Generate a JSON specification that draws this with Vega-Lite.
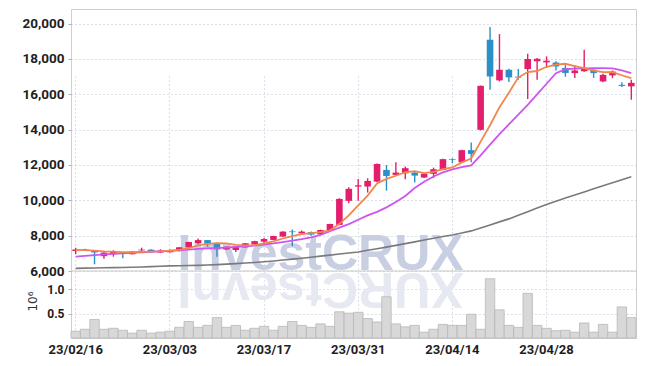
{
"$schema": "https://vega.github.io/schema/vega-lite/v6.json",
"width": 565, "height": 329,
"autosize": {"type": "none"},
"padding": {"left": 71, "top": 9, "right": 9, "bottom": 28},
"background": "white",
"config": {"view": {"stroke": "#cfcfcf", "strokeWidth": 1}},
"datasets": {"px": [
{"d":"23/02/16","o":7130,"h":7320,"l":6950,"c":7220,"v":0.14,"ma5":7190,"ma20":6810,"ma60":6150},
{"d":"23/02/17","o":7220,"h":7260,"l":7150,"c":7160,"v":0.18,"ma5":7180,"ma20":6860,"ma60":6160},
{"d":"23/02/20","o":7170,"h":7180,"l":6380,"c":7050,"v":0.38,"ma5":7150,"ma20":6900,"ma60":6170},
{"d":"23/02/21","o":6840,"h":7130,"l":6690,"c":7040,"v":0.18,"ma5":7110,"ma20":6940,"ma60":6180},
{"d":"23/02/22","o":6950,"h":7170,"l":6810,"c":7090,"v":0.20,"ma5":7100,"ma20":6970,"ma60":6190},
{"d":"23/02/23","o":7060,"h":7070,"l":6720,"c":7030,"v":0.16,"ma5":7070,"ma20":7000,"ma60":6200},
{"d":"23/02/24","o":6950,"h":7120,"l":6930,"c":7100,"v":0.10,"ma5":7060,"ma20":7030,"ma60":6215},
{"d":"23/02/27","o":7170,"h":7320,"l":7090,"c":7210,"v":0.16,"ma5":7080,"ma20":7060,"ma60":6230},
{"d":"23/02/28","o":7210,"h":7230,"l":7120,"c":7130,"v":0.10,"ma5":7100,"ma20":7090,"ma60":6250},
{"d":"23/03/02","o":7040,"h":7230,"l":7020,"c":7160,"v":0.12,"ma5":7110,"ma20":7110,"ma60":6270},
{"d":"23/03/03","o":7060,"h":7210,"l":7050,"c":7190,"v":0.14,"ma5":7150,"ma20":7140,"ma60":6290},
{"d":"23/03/06","o":7130,"h":7360,"l":7110,"c":7340,"v":0.22,"ma5":7200,"ma20":7170,"ma60":6300},
{"d":"23/03/07","o":7340,"h":7660,"l":7320,"c":7640,"v":0.34,"ma5":7300,"ma20":7210,"ma60":6310},
{"d":"23/03/08","o":7580,"h":7840,"l":7520,"c":7750,"v":0.22,"ma5":7450,"ma20":7250,"ma60":6320},
{"d":"23/03/09","o":7750,"h":7760,"l":7370,"c":7540,"v":0.26,"ma5":7540,"ma20":7280,"ma60":6340},
{"d":"23/03/10","o":7580,"h":7600,"l":6810,"c":7220,"v":0.42,"ma5":7580,"ma20":7300,"ma60":6360},
{"d":"23/03/13","o":7220,"h":7390,"l":7200,"c":7370,"v":0.22,"ma5":7560,"ma20":7330,"ma60":6390},
{"d":"23/03/14","o":7190,"h":7380,"l":7080,"c":7370,"v":0.26,"ma5":7480,"ma20":7360,"ma60":6420},
{"d":"23/03/15","o":7340,"h":7580,"l":7320,"c":7560,"v":0.16,"ma5":7450,"ma20":7400,"ma60":6450},
{"d":"23/03/16","o":7500,"h":7710,"l":7480,"c":7690,"v":0.20,"ma5":7470,"ma20":7440,"ma60":6480},
{"d":"23/03/17","o":7660,"h":7870,"l":7570,"c":7810,"v":0.24,"ma5":7560,"ma20":7500,"ma60":6520},
{"d":"23/03/20","o":7760,"h":8000,"l":7740,"c":7980,"v":0.16,"ma5":7680,"ma20":7560,"ma60":6570},
{"d":"23/03/21","o":7950,"h":8250,"l":7930,"c":8230,"v":0.24,"ma5":7840,"ma20":7640,"ma60":6620},
{"d":"23/03/22","o":8240,"h":8350,"l":7420,"c":8200,"v":0.34,"ma5":7980,"ma20":7720,"ma60":6670},
{"d":"23/03/23","o":8130,"h":8290,"l":8100,"c":8230,"v":0.26,"ma5":8090,"ma20":7800,"ma60":6720},
{"d":"23/03/24","o":8200,"h":8240,"l":8000,"c":8060,"v":0.22,"ma5":8140,"ma20":7900,"ma60":6780},
{"d":"23/03/27","o":8080,"h":8340,"l":8060,"c":8320,"v":0.29,"ma5":8200,"ma20":8050,"ma60":6840},
{"d":"23/03/28","o":8290,"h":8680,"l":8270,"c":8660,"v":0.24,"ma5":8300,"ma20":8250,"ma60":6900},
{"d":"23/03/29","o":8610,"h":10120,"l":8590,"c":10080,"v":0.54,"ma5":8670,"ma20":8450,"ma60":6960},
{"d":"23/03/30","o":9970,"h":10740,"l":9830,"c":10650,"v":0.51,"ma5":9150,"ma20":8650,"ma60":7020},
{"d":"23/03/31","o":10780,"h":11210,"l":9970,"c":10850,"v":0.53,"ma5":9710,"ma20":8900,"ma60":7080},
{"d":"23/04/03","o":10780,"h":11250,"l":10440,"c":11100,"v":0.40,"ma5":10270,"ma20":9150,"ma60":7170},
{"d":"23/04/04","o":11060,"h":12080,"l":11030,"c":12060,"v":0.33,"ma5":10950,"ma20":9350,"ma60":7260},
{"d":"23/04/05","o":11720,"h":12000,"l":10550,"c":11380,"v":0.85,"ma5":11210,"ma20":9600,"ma60":7350},
{"d":"23/04/06","o":11440,"h":12160,"l":11420,"c":11570,"v":0.29,"ma5":11390,"ma20":9900,"ma60":7450},
{"d":"23/04/07","o":11530,"h":11910,"l":11200,"c":11820,"v":0.23,"ma5":11590,"ma20":10250,"ma60":7550},
{"d":"23/04/10","o":11570,"h":11600,"l":11010,"c":11400,"v":0.26,"ma5":11650,"ma20":10700,"ma60":7650},
{"d":"23/04/11","o":11290,"h":11520,"l":11270,"c":11500,"v":0.12,"ma5":11540,"ma20":11050,"ma60":7750},
{"d":"23/04/12","o":11500,"h":11850,"l":11260,"c":11760,"v":0.18,"ma5":11610,"ma20":11350,"ma60":7850},
{"d":"23/04/13","o":11720,"h":12360,"l":11700,"c":12330,"v":0.28,"ma5":11760,"ma20":11580,"ma60":7950},
{"d":"23/04/14","o":12340,"h":12380,"l":12100,"c":12300,"v":0.26,"ma5":11860,"ma20":11750,"ma60":8040},
{"d":"23/04/17","o":12160,"h":12870,"l":12140,"c":12840,"v":0.26,"ma5":12150,"ma20":11880,"ma60":8150},
{"d":"23/04/18","o":12840,"h":13270,"l":12160,"c":12630,"v":0.49,"ma5":12370,"ma20":11980,"ma60":8270},
{"d":"23/04/19","o":13990,"h":16500,"l":13960,"c":16480,"v":0.18,"ma5":13320,"ma20":12550,"ma60":8440},
{"d":"23/04/20","o":19090,"h":19810,"l":16260,"c":17010,"v":1.22,"ma5":14250,"ma20":13150,"ma60":8610},
{"d":"23/04/21","o":16790,"h":19410,"l":16730,"c":17390,"v":0.58,"ma5":15270,"ma20":13750,"ma60":8780},
{"d":"23/04/24","o":17390,"h":17450,"l":16700,"c":16960,"v":0.26,"ma5":16090,"ma20":14300,"ma60":8950},
{"d":"23/04/25","o":17000,"h":17430,"l":16820,"c":16950,"v":0.22,"ma5":16960,"ma20":14850,"ma60":9150},
{"d":"23/04/26","o":17430,"h":18300,"l":15730,"c":18000,"v":0.92,"ma5":17260,"ma20":15400,"ma60":9360},
{"d":"23/04/27","o":17870,"h":18050,"l":16820,"c":18010,"v":0.26,"ma5":17320,"ma20":16000,"ma60":9560},
{"d":"23/04/28","o":17810,"h":18150,"l":17490,"c":17900,"v":0.20,"ma5":17560,"ma20":16600,"ma60":9770},
{"d":"23/05/02","o":17800,"h":17870,"l":17350,"c":17580,"v":0.15,"ma5":17680,"ma20":17200,"ma60":9950},
{"d":"23/05/03","o":17490,"h":17650,"l":17000,"c":17210,"v":0.16,"ma5":17730,"ma20":17420,"ma60":10130},
{"d":"23/05/04","o":17200,"h":17650,"l":16930,"c":17350,"v":0.12,"ma5":17600,"ma20":17450,"ma60":10300},
{"d":"23/05/08","o":17300,"h":18520,"l":17280,"c":17430,"v":0.31,"ma5":17480,"ma20":17470,"ma60":10470},
{"d":"23/05/09","o":17400,"h":17420,"l":16930,"c":17200,"v":0.12,"ma5":17340,"ma20":17480,"ma60":10650},
{"d":"23/05/10","o":16730,"h":17160,"l":16680,"c":17100,"v":0.28,"ma5":17260,"ma20":17480,"ma60":10820},
{"d":"23/05/11","o":17070,"h":17350,"l":16920,"c":17290,"v":0.12,"ma5":17250,"ma20":17470,"ma60":10990},
{"d":"23/05/12","o":16540,"h":16680,"l":16410,"c":16480,"v":0.64,"ma5":17080,"ma20":17350,"ma60":11170},
{"d":"23/05/15","o":16450,"h":16820,"l":15690,"c":16650,"v":0.42,"ma5":16920,"ma20":17200,"ma60":11340}
],
"wm": [{"t": "InvestCRUX", "r": "XURCtsevnI"}]
},
"layer": [
 {
  "layer": [
   {
    "data": {"name": "wm"},
    "mark": {"type": "text", "font": "Liberation Sans", "fontWeight": "bold", "fontSize": 50, "align": "center", "baseline": "alphabetic", "color": "#e6e9f2", "angle": 180, "dy": -2},
    "encoding": {"x": {"datum": "23/03/27", "type": "ordinal"}, "y": {"datum": 6000, "type": "quantitative"}, "text": {"field": "r"}}
   },
   {
    "data": {"name": "wm"},
    "mark": {"type": "text", "font": "Liberation Sans", "fontWeight": "bold", "fontSize": 50, "align": "center", "baseline": "alphabetic", "color": "#c8cfe2", "dy": -1},
    "encoding": {"x": {"datum": "23/03/27", "type": "ordinal"}, "y": {"datum": 6000, "type": "quantitative"}, "text": {"field": "t"}}
   },
   {
    "data": {"name": "px"},
    "mark": {"type": "rule", "strokeWidth": 1.4},
    "encoding": {
     "x": {"field": "d", "type": "ordinal", "sort": "ascending", "scale": {"type": "band", "paddingInner": 0, "paddingOuter": 0},
       "axis": {"title": null, "values": ["23/02/16","23/03/03","23/03/17","23/03/31","23/04/14","23/04/28"], "bandPosition": 0.5, "grid": true, "gridDash": [1,3], "gridColor": "#b9bdd0", "ticks": false, "domain": false, "labelAngle": 0, "labelAlign": "center", "labelBaseline": "top", "labelFont": "Roboto", "labelFontWeight": "bold", "labelFontSize": 13, "labelColor": "#1e1e1e", "labelPadding": 5}},
     "y": {"field": "l", "type": "quantitative", "scale": {"domain": [6000, 20830], "range": [262, 0], "zero": false, "nice": false},
       "axis": {"title": null, "values": [6000,8000,10000,12000,14000,16000,18000,20000], "format": ",.0f", "grid": true, "gridDash": [1,3], "gridColor": "#b9bdd0", "domain": false, "tickSize": 3, "tickColor": "#b0b0b0", "labelFont": "Roboto", "labelFontWeight": "bold", "labelFontSize": 13.5, "labelColor": "#1e1e1e", "labelPadding": 4}},
     "y2": {"field": "h"},
     "color": {"condition": {"test": "datum.c >= datum.o", "value": "#e31e6c"}, "value": "#2b8fc8"}
    }
   },
   {
    "data": {"name": "px"},
    "mark": {"type": "bar", "width": {"band": 0.7}},
    "encoding": {
     "x": {"field": "d", "type": "ordinal", "sort": "ascending"},
     "y": {"field": "o", "type": "quantitative"},
     "y2": {"field": "c"},
     "color": {"condition": {"test": "datum.c >= datum.o", "value": "#e31e6c"}, "value": "#2b8fc8"}
    }
   },
   {
    "data": {"name": "px"},
    "mark": {"type": "line", "color": "#7a7a7a", "strokeWidth": 1.6},
    "encoding": {"x": {"field": "d", "type": "ordinal", "sort": "ascending"}, "y": {"field": "ma60", "type": "quantitative"}}
   },
   {
    "data": {"name": "px"},
    "mark": {"type": "line", "color": "#cf55ef", "strokeWidth": 1.8},
    "encoding": {"x": {"field": "d", "type": "ordinal", "sort": "ascending"}, "y": {"field": "ma20", "type": "quantitative"}}
   },
   {
    "data": {"name": "px"},
    "mark": {"type": "line", "color": "#f0874c", "strokeWidth": 1.8},
    "encoding": {"x": {"field": "d", "type": "ordinal", "sort": "ascending"}, "y": {"field": "ma5", "type": "quantitative"}}
   },
   {
    "data": {"name": "wm"},
    "mark": {"type": "rule", "color": "#c8c8c8", "strokeWidth": 1.2},
    "encoding": {"y": {"datum": 6000, "type": "quantitative"}}
   }
  ]
 },
 {
  "data": {"name": "px"},
  "mark": {"type": "bar", "color": "#d8d8d8", "stroke": "#b8b8b8", "strokeWidth": 0.8},
  "encoding": {
   "x": {"field": "d", "type": "ordinal", "sort": "ascending"},
   "y": {"field": "v", "type": "quantitative", "scale": {"domain": [0, 1.38], "range": [329, 262], "nice": false, "zero": true},
     "axis": {"orient": "left", "title": "10⁶", "titleFont": "DejaVu Sans", "titleFontWeight": "normal", "titleFontSize": 12, "titleColor": "#333", "titleX": -39, "titleY": 292, "titleAngle": -90, "titleAlign": "center", "titleBaseline": "middle", "values": [0.5, 1.0], "format": ".1f", "grid": true, "gridDash": [1,3], "gridColor": "#b9bdd0", "domain": false, "tickSize": 3, "tickColor": "#b0b0b0", "labelFont": "Roboto", "labelFontWeight": "bold", "labelFontSize": 12, "labelColor": "#1e1e1e", "labelPadding": 4}}
  }
 }
],
"resolve": {"scale": {"y": "independent"}}
}
